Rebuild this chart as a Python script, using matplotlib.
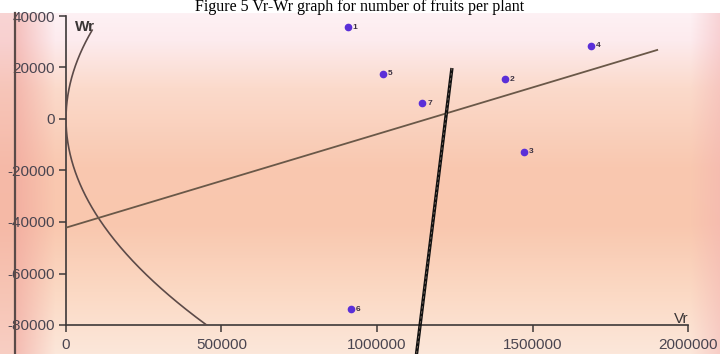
import numpy as np
import matplotlib
matplotlib.use("Agg")
import matplotlib.pyplot as plt
from matplotlib.colors import to_rgb

# ---------------- data ----------------
genotypes = ['1', '2', '3', '4', '5', '6', '7']
vr = [906800, 1411600, 1472700, 1687000, 1018000, 915400, 1146000]
wr = [35700, 15400, -12800, 28350, 17480, -73800, 6100]

# regression line Wr = a + b*Vr
reg_intercept = -42200
reg_slope = 0.0363
reg_x_end = 1901000

# limiting parabola Wr^2 = Vp * Vr
vp = 14160
parab_wr_top = 34500
parab_wr_bottom = -80000

# perpendicular (thick) line end points
perp_x = [1241000, 1127000]
perp_y = [19800, -91300]

xticks = [0, 500000, 1000000, 1500000, 2000000]
yticks = [-80000, -60000, -40000, -20000, 0, 20000, 40000]
title = 'Figure 5 Vr-Wr graph for number of fruits per plant'

# ---------------- figure ----------------
W, H = 720, 354
fig = plt.figure(figsize=(7.2, 3.54), dpi=100)
fig.patch.set_facecolor('white')

# background gradient (chart image region)
top_px = 13
bg_h = H - top_px
stops = [(0.0, '#fdf1f4'), (0.08, '#fdebee'), (0.22, '#fbdacb'),
         (0.45, '#f9c8b0'), (0.62, '#f9c7ae'), (0.82, '#fbd9c4'), (1.0, '#fce7da')]
ys = np.linspace(0, 1, bg_h)
fr = [s[0] for s in stops]
cols = np.array([to_rgb(s[1]) for s in stops])
vert = np.stack([np.interp(ys, fr, cols[:, k]) for k in range(3)], axis=1)
img = np.repeat(vert[:, None, :], W, axis=1)
xs = np.arange(W)
left_w = np.clip((55 - xs) / 40.0, 0, 1) * 0.6
left_w[xs < 15] = 0.35
right_w = np.clip((xs - 690) / 30.0, 0, 1) * 0.45
left_c = np.array(to_rgb('#ef9f98'))
right_c = np.array(to_rgb('#f2aeb0'))
img = img * (1 - left_w[None, :, None]) + left_c[None, None, :] * left_w[None, :, None]
img = img * (1 - right_w[None, :, None]) + right_c[None, None, :] * right_w[None, :, None]

bgax = fig.add_axes([0, 0, 1, bg_h / H])
bgax.imshow(img, aspect='auto', extent=[0, 1, 0, 1], interpolation='bilinear')
bgax.set_axis_off()
bgax.set_zorder(0)

# border line at left of embedded image
fig.add_artist(plt.Line2D([15 / W, 15 / W], [0, bg_h / H], transform=fig.transFigure,
                          color='#5a4a48', lw=1.6, zorder=5))

# title
fig.text(0.5, 1 - 11 / H, title, ha='center', va='baseline',
         fontsize=11.5, family='Liberation Serif', color='black', zorder=6)

# main axes
x0, x1 = 66, 688
y0, y1 = 16, 325
ax = fig.add_axes([x0 / W, (H - y1) / H, (x1 - x0) / W, (y1 - y0) / H])
ax.set_zorder(2)
ax.patch.set_alpha(0)
ax.set_xlim(0, 2000000)
ax.set_ylim(-80000, 40000)
for s in ['top', 'right']:
    ax.spines[s].set_visible(False)
for s in ['left', 'bottom']:
    ax.spines[s].set_color('#3d3838')
    ax.spines[s].set_linewidth(1.2)
ax.set_xticks(xticks)
ax.set_xticklabels([str(t) for t in xticks])
ax.set_yticks(yticks)
ax.set_yticklabels([str(t) for t in yticks])
ax.tick_params(axis='both', direction='out', length=5, width=1.1, color='#3d3838',
               labelsize=11, labelcolor='#4a4550')
ax.tick_params(axis='y', pad=3)
ax.tick_params(axis='x', pad=4.5)
for lab in ax.get_xticklabels() + ax.get_yticklabels():
    lab.set_family('Liberation Sans')

# parabola
wr_curve = np.linspace(parab_wr_bottom, parab_wr_top, 300)
vr_curve = wr_curve ** 2 / vp
ax.plot(vr_curve, wr_curve, color='#5c4a48', lw=1.2, zorder=3)

# regression line
ax.plot([0, reg_x_end], [reg_intercept, reg_intercept + reg_slope * reg_x_end],
        color='#6a5848', lw=1.3, zorder=3)

# thick perpendicular line
ax.plot(perp_x, perp_y, color='#111111', lw=2.4, zorder=4, clip_on=False,
        solid_capstyle='butt')
ax.plot(perp_x, perp_y, color='#7a6a60', lw=0.6, ls=(0, (3, 3)), zorder=4,
        clip_on=False)

# points
ax.plot(vr, wr, ls='none', marker='o', ms=4.5, color='#5a2fd8', mec='#5a2fd8', zorder=5)
for g, xv, yv in zip(genotypes, vr, wr):
    ax.annotate(g, (xv, yv), xytext=(3.5, 0), textcoords='offset points',
                ha='left', va='center', fontsize=6, color='#3a3040',
                family='Liberation Sans', fontweight='bold', zorder=6)

# axis name labels
ax.text(75 / W, 1 - 27 / H, 'Wr', transform=fig.transFigure, fontsize=11,
        family='Liberation Sans', color='#3a3535', fontweight='bold', va='center', ha='left')
ax.text(681 / W, 1 - 319 / H, 'Vr', transform=fig.transFigure, fontsize=11,
        family='Liberation Sans', color='#3a3535', va='center', ha='center')

fig.savefig('out.png', dpi=100)
